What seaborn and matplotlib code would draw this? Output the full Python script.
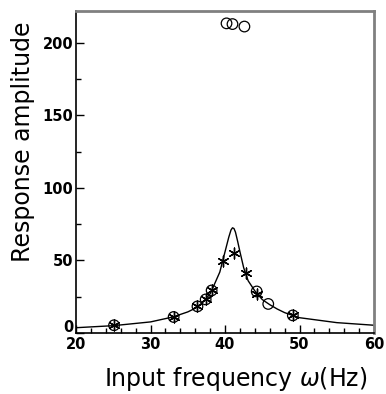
import matplotlib
matplotlib.use("Agg")
import matplotlib.pyplot as plt
import matplotlib.transforms as mtransforms
import seaborn as sns

# Fitted response curve
curve_freq = [20, 25, 30, 33, 35, 36, 37, 38, 38.7, 39.3, 39.9, 40.2, 40.5, 40.8, 41.0,
              41.2, 41.4, 41.7, 42.0, 42.5, 43.1, 44, 45, 46, 47, 48, 49, 50, 55, 60]
curve_amp = [3.6, 5.0, 7.6, 11, 14.5, 17, 21, 27, 35, 42, 54, 60, 66, 71, 72.5,
             72, 69.5, 63, 56, 45, 36, 29, 23, 19.5, 16.5, 14, 12.2, 10.5, 7.1, 5.3]

# Open circles
circle_freq = [25.1, 33.1, 36.3, 37.4, 38.2, 44.25, 45.8, 49.1, 40.2, 41.0, 42.6]
circle_amp = [5.3, 11.0, 18.3, 23.1, 29.3, 28.6, 20.0, 12.1, 213.5, 213.0, 211.3]

# Asterisks
star_freq = [25.1, 33.1, 36.3, 37.4, 38.2, 39.7, 41.2, 42.8, 44.25, 49.1]
star_amp = [5.3, 11.0, 18.3, 23.1, 29.3, 49.3, 55.2, 41.2, 27.0, 12.1]

# Tick values
x_major = [20, 30, 40, 50, 60]
x_minor = list(range(20, 61, 2))
y_major = [0, 50, 100, 150, 200]
y_minor = [25, 75, 125, 175]

sns.set_style("ticks")
plt.rcParams['font.family'] = ['DejaVu Sans']
plt.rcParams['text.color'] = 'black'
plt.rcParams['axes.labelcolor'] = 'black'
plt.rcParams['xtick.color'] = 'black'
plt.rcParams['ytick.color'] = 'black'

fig = plt.figure(figsize=(3.86, 3.94), dpi=100)
ax = fig.add_axes([0.197, 0.155, 0.772, 0.817])

sns.lineplot(x=curve_freq, y=curve_amp, ax=ax, color="black", linewidth=1.0, sort=False)
sns.scatterplot(x=circle_freq, y=circle_amp, ax=ax, marker="o", s=58,
                facecolor="none", edgecolor="black", linewidth=0.9, zorder=3)
sns.scatterplot(x=star_freq, y=star_amp, ax=ax, marker=(6, 2, 0), s=60,
                color="black", linewidth=1.0, zorder=4)

ax.set_xlim(20, 60)
ax.set_ylim(0, 222)
ax.set_xticks(x_major)
ax.set_xticks(x_minor, minor=True)
ax.set_yticks(y_major)
ax.set_yticks(y_minor, minor=True)
ax.tick_params(axis="both", which="major", direction="in", length=6, width=1,
               labelsize=10.5, pad=2, colors="black")
ax.tick_params(axis="both", which="minor", direction="in", length=3.5, width=1)
ax.tick_params(axis="x", which="major", pad=3)
for lab in ax.get_xticklabels() + ax.get_yticklabels():
    lab.set_fontweight("bold")

zero_lab = ax.yaxis.get_major_ticks()[0].label1
offset = mtransforms.ScaledTranslation(0, 5 / 72, fig.dpi_scale_trans)
zero_lab.set_transform(zero_lab.get_transform() + offset)

for s in ["left", "bottom"]:
    ax.spines[s].set_color("black")
    ax.spines[s].set_linewidth(1.2)
for s in ["top", "right"]:
    ax.spines[s].set_visible(True)
    ax.spines[s].set_color("#808080")
    ax.spines[s].set_linewidth(2)

ax.set_xlabel("Input frequency $\\omega$(Hz)", fontsize=17)
ax.set_ylabel("Response amplitude", fontsize=17)
ax.xaxis.set_label_coords(0.537, -0.099)
ax.xaxis.label.set_va("top")
ax.yaxis.set_label_coords(-0.138, 0.593)

fig.savefig("out.png", dpi=100)
